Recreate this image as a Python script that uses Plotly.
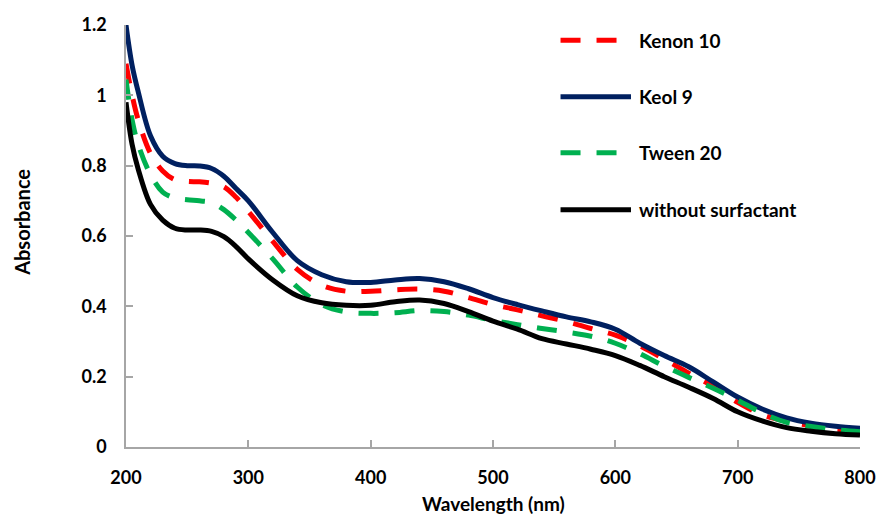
import plotly.graph_objects as go

# Wavelength grid (nm)
wavelength = [200, 205, 210, 220, 230, 240, 250, 260, 270, 280, 290, 300, 320, 340, 360, 380,
              400, 420, 440, 460, 480, 500, 520, 540, 560, 580, 600, 620, 640, 660, 680,
              700, 720, 740, 760, 780, 800]

# Absorbance spectra
kenon_10 = [1.09, 1.00, 0.93, 0.835, 0.785, 0.76, 0.755, 0.754, 0.75, 0.74, 0.71, 0.67, 0.585,
            0.505, 0.46, 0.443, 0.443, 0.447, 0.449, 0.443, 0.425, 0.405, 0.39, 0.373, 0.357,
            0.337, 0.318, 0.288, 0.25, 0.21, 0.172, 0.127, 0.092, 0.073, 0.06, 0.051, 0.045]
keol_9 = [1.20, 1.085, 1.01, 0.885, 0.827, 0.806, 0.800, 0.799, 0.792, 0.77, 0.735, 0.70, 0.61,
          0.53, 0.49, 0.47, 0.468, 0.475, 0.479, 0.47, 0.45, 0.425, 0.405, 0.387, 0.37, 0.356,
          0.335, 0.295, 0.26, 0.228, 0.185, 0.142, 0.108, 0.083, 0.068, 0.059, 0.053]
tween_20 = [1.045, 0.93, 0.86, 0.775, 0.725, 0.708, 0.703, 0.70, 0.695, 0.675, 0.645, 0.61, 0.535,
            0.455, 0.405, 0.384, 0.38, 0.382, 0.388, 0.385, 0.375, 0.36, 0.348, 0.337, 0.327,
            0.315, 0.295, 0.265, 0.23, 0.198, 0.167, 0.133, 0.097, 0.07, 0.058, 0.049, 0.043]
without_surfactant = [0.98, 0.86, 0.79, 0.69, 0.645, 0.622, 0.617, 0.617, 0.613, 0.598, 0.57,
                      0.535, 0.475, 0.43, 0.41, 0.403, 0.403, 0.413, 0.418, 0.408, 0.385, 0.358,
                      0.335, 0.308, 0.293, 0.278, 0.26, 0.232, 0.2, 0.17, 0.138, 0.10, 0.074,
                      0.055, 0.045, 0.038, 0.034]

names = ["Kenon 10", "Keol 9", "Tween 20", "without surfactant"]
series = [kenon_10, keol_9, tween_20, without_surfactant]
colors = ["#ff0000", "#002060", "#00b050", "#000000"]
dashes = ["20px,16px", "solid", "20px,16px", "solid"]

x_ticks = [200, 300, 400, 500, 600, 700, 800]
y_ticks = [0, 0.2, 0.4, 0.6, 0.8, 1.0, 1.2]
y_tick_text = ["0", "0.2", "0.4", "0.6", "0.8", "1", "1.2"]

FONT = "Lato"
fig = go.Figure()
for name, ys, col, dsh in zip(names, series, colors, dashes):
    fig.add_trace(go.Scatter(
        x=wavelength, y=ys, name=name, mode="lines",
        line=dict(color=col, width=5, dash=dsh, shape="spline", smoothing=1.0),
        showlegend=False,
    ))

# Hand-placed legend on the right side of the plot
legend_y = [0.964, 0.830, 0.697, 0.562]
for name, col, dsh, ly in zip(names, colors, dashes, legend_y):
    fig.add_shape(type="line", xref="paper", yref="paper",
                  x0=0.592, x1=0.688, y0=ly, y1=ly,
                  line=dict(color=col, width=5, dash=dsh))
    fig.add_annotation(xref="paper", yref="paper", x=0.696, y=ly, text=name,
                       showarrow=False, xanchor="left", yanchor="middle",
                       font=dict(family=FONT, size=19, color="#000000", weight="bold"))

# Axis titles
fig.add_annotation(xref="paper", yref="paper", x=0.5, y=-0.133, text="Wavelength (nm)",
                   showarrow=False, xanchor="center", yanchor="middle",
                   font=dict(family=FONT, size=19, color="#000000", weight="bold"))
fig.add_annotation(xref="paper", yref="paper", x=-0.142, y=0.533, text="Absorbance",
                   showarrow=False, textangle=-90, xanchor="center", yanchor="middle",
                   font=dict(family=FONT, size=20, color="#000000", weight="bold"))

axis_common = dict(showgrid=False, zeroline=False, showline=True, linecolor="#a6a6a6",
                   linewidth=1.5, ticks="inside", ticklen=7, tickcolor="#a6a6a6",
                   tickwidth=1.5, automargin=False,
                   tickfont=dict(family=FONT, size=18, color="#000000", weight="bold"))
fig.update_xaxes(range=[200, 800], tickvals=x_ticks, ticklabelstandoff=14, **axis_common)
fig.update_yaxes(range=[0, 1.2], tickvals=y_ticks, ticktext=y_tick_text,
                 ticklabelstandoff=14, **axis_common)

fig.update_layout(
    width=876, height=517,
    margin=dict(l=126, r=16, t=25, b=70, autoexpand=False),
    plot_bgcolor="#ffffff", paper_bgcolor="#ffffff",
    showlegend=False,
)

fig.write_html("out.html")
